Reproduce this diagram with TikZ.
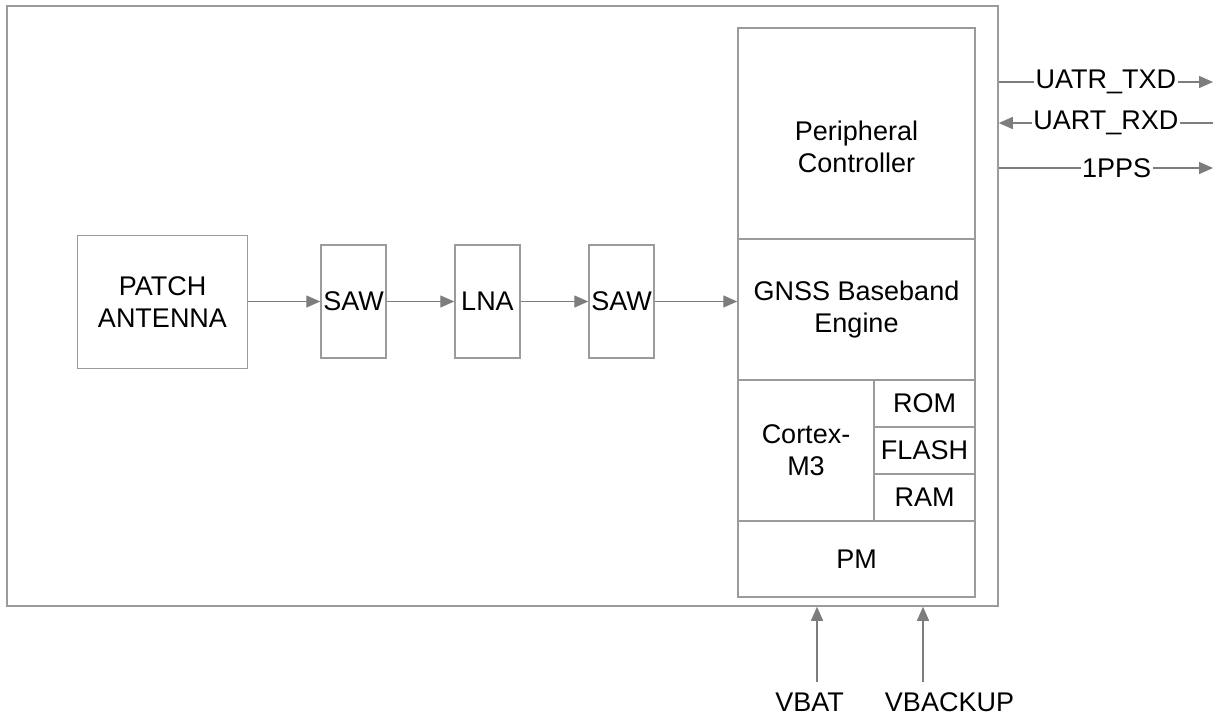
\documentclass[tikz,border=0pt]{standalone}
\usepackage{fontspec}
\setmainfont{Liberation Sans}
\usetikzlibrary{arrows.meta,positioning}
\definecolor{boxgray}{RGB}{155,155,155}
\definecolor{arrgray}{RGB}{125,125,125}
\tikzset{
    box/.style={draw=boxgray, line width=1.5pt, inner sep=0pt},
    arr/.style={draw=arrgray, line width=1.4pt, -{Triangle[length=14pt,width=12pt]}},
    lbl/.style={fill=white, inner sep=1.5pt},
}
\begin{document}
\begin{tikzpicture}[x=1pt, y=-1pt, font=\fontsize{27}{32}\selectfont, align=center]
        \useasboundingbox (0,0) rectangle (1221,718);
        \begin{scope}
            \node[box, minimum width=991, minimum height=600] (module) at (502.5,306) {};
        \end{scope}
        \begin{scope}
            \node[box, minimum width=170, minimum height=133] (patch) at (162.5,302) {PATCH\\ANTENNA};
            \node[box, minimum width=65, minimum height=113] (saw1) at (353.5,301.5) {SAW};
            \node[box, minimum width=65, minimum height=113] (lna) at (487.5,301.5) {LNA};
            \node[box, minimum width=65, minimum height=113] (saw2) at (621.5,301.5) {SAW};
            \draw[arr] (patch.east |- saw1.west) -- (saw1.west);
            \draw[arr] (saw1.east) -- (lna.west);
            \draw[arr] (lna.east) -- (saw2.west);
        \end{scope}
        \begin{scope}
            \node[box, minimum width=237, minimum height=211] (periph) at (856.5,133.5) {};
            \node (periphtxt) at (856.5,147) {Peripheral\\Controller};
            \node[box, minimum width=237, minimum height=141] (gnss) at (856.5,309.5) {GNSS Baseband\\Engine};
            \node[box, minimum width=136, minimum height=141] (cortex) at (806,450.5) {Cortex-\\M3};
            \node[box, minimum width=101, minimum height=47] (rom) at (924.5,403.5) {ROM};
            \node[box, minimum width=101, minimum height=47] (flash) at (924.5,450.5) {FLASH};
            \node[box, minimum width=101, minimum height=47] (ram) at (924.5,497.5) {RAM};
            \node[box, minimum width=237, minimum height=76] (pm) at (856.5,559) {PM};
            \draw[arr] (saw2.east) -- (saw2.east -| gnss.west);
        \end{scope}
        \begin{scope}
            \coordinate (txd) at (1213,82);
            \coordinate (rxd) at (1213,123);
            \coordinate (pps) at (1213,168);
            \draw[arr] (module.east |- txd) -- (txd) node[lbl, midway] (txdlbl) {UATR\_TXD};
            \draw[arr] (rxd) -- (module.east |- rxd) node[lbl, midway] (rxdlbl) {UART\_RXD};
            \draw[arr] (module.east |- pps) -- (pps) node[lbl, pos=0.55] (ppslbl) {1PPS};
        \end{scope}
        \begin{scope}
            \node (vbat) at (809.5,702) {VBAT};
            \node (vbackup) at (949.5,702) {VBACKUP};
            \coordinate (vbatend) at (817,682);
            \coordinate (vbackupend) at (923,682);
            \draw[arr] (vbatend) -- (vbatend |- module.south);
            \draw[arr] (vbackupend) -- (vbackupend |- module.south);
        \end{scope}
    \end{tikzpicture}
\end{document}
